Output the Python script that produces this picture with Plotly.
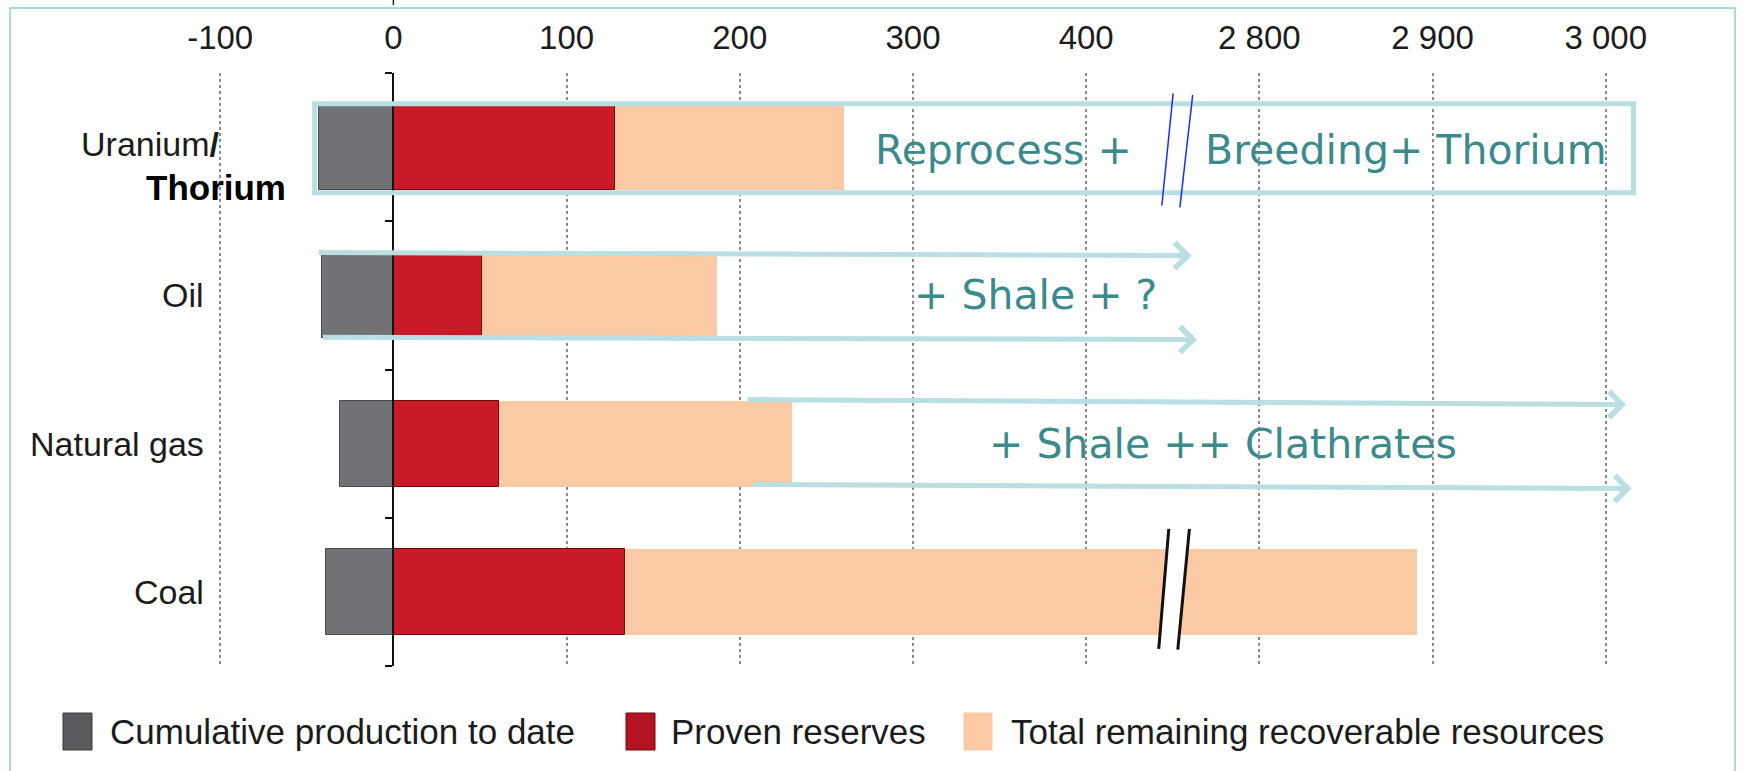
import plotly.graph_objects as go

# ---------------- data ----------------
categories = ["Uranium/Thorium", "Oil", "Natural gas", "Coal"]
cumulative_production = [43, 41, 31, 39]
proven_reserves = [128, 51, 61, 134]
total_remaining = [260, 187, 230, 2891]

tick_values = [-100, 0, 100, 200, 300, 400, 2800, 2900, 3000]
tick_labels = ["-100", "0", "100", "200", "300", "400", "2 800", "2 900", "3 000"]

series_names = ["Cumulative production to date", "Proven reserves",
                "Total remaining recoverable resources"]

# broken axis: values above BREAK_AT are shifted left by BREAK_SHIFT
BREAK_AT = 450
BREAK_SHIFT = 2300


def to_axis(v):
    return v - BREAK_SHIFT if v > BREAK_AT else v


# ---------------- layout constants ----------------
W, H = 1743, 771
ML, MR, MT, MB = 47, 16, 73, 105
PW = W - ML - MR
PH = H - MT - MB
X_RANGE = [-200, 770]

C_GRAY = "#707276"
C_RED = "#c81a27"
C_PEACH = "#fbc9a3"
C_TEAL_LINE = "#b9dfe2"
C_TEAL_TEXT = "#3b8a8c"
FONT = "Liberation Sans Narrow, Arial Narrow, Liberation Sans, Arial, sans-serif"


def fx(px):
    return (px - ML) / PW


def fy(py):
    return (MT + PH - py) / PH


y_pos = list(range(len(categories)))

fig = go.Figure()
fig.add_trace(go.Bar(
    y=y_pos, x=[-c for c in cumulative_production], base=0, orientation="h",
    width=0.58, name=series_names[0], showlegend=False,
    marker=dict(color=C_GRAY, line=dict(color="#4a4b4e", width=1))))
fig.add_trace(go.Bar(
    y=y_pos, x=proven_reserves, base=0, orientation="h",
    width=0.58, name=series_names[1], showlegend=False,
    marker=dict(color=C_RED, line=dict(color="#6e0a10", width=1))))
fig.add_trace(go.Bar(
    y=y_pos, x=[to_axis(t) - p for t, p in zip(total_remaining, proven_reserves)],
    base=proven_reserves, orientation="h",
    width=0.58, name=series_names[2], showlegend=False,
    marker=dict(color=C_PEACH, line=dict(width=0))))

zero_frac = (0 - X_RANGE[0]) / (X_RANGE[1] - X_RANGE[0])

shapes = []
annotations = []

# frame around the picture
shapes.append(dict(type="rect", xref="paper", yref="paper",
                   x0=fx(10), x1=fx(1735), y0=fy(800), y1=fy(8),
                   line=dict(color="#aad8dc", width=2), layer="above"))
# small mark above the zero at the very top
shapes.append(dict(type="line", xref="x", yref="paper", x0=0, x1=0,
                   y0=fy(0), y1=fy(5), line=dict(color="#222", width=1.5)))

# category labels
label_font = dict(family=FONT, size=34, color="#1c1c1c")
for i, c in enumerate(categories):
    if i == 0:
        annotations.append(dict(x=-99.5, y=y_pos[i] - 0.02, xref="x", yref="y",
                                text="Uranium<b>/</b>", showarrow=False, xanchor="right",
                                yanchor="middle", font=label_font))
        annotations.append(dict(x=-61, y=y_pos[i] + 0.27, xref="x", yref="y",
                                text="<b>Thorium</b>", showarrow=False, xanchor="right",
                                yanchor="middle",
                                font=dict(family="Liberation Sans, Arial, sans-serif",
                                          size=35, color="#000")))
    else:
        annotations.append(dict(x=-108, y=y_pos[i], xref="x", yref="y",
                                text=c, showarrow=False, xanchor="right",
                                yanchor="middle", font=label_font))

# Uranium box annotation
shapes.append(dict(type="rect", xref="x", yref="y", x0=-45.5, x1=716,
                   y0=-0.293, y1=0.307, line=dict(color=C_TEAL_LINE, width=5)))
note_font = dict(family="DejaVu Sans, Verdana, sans-serif", size=41, color=C_TEAL_TEXT)
annotations.append(dict(x=277, y=0.02, xref="x", yref="y", text="Reprocess +",
                        showarrow=False, xanchor="left", yanchor="middle", font=note_font))
annotations.append(dict(x=467.4, y=0.02, xref="x", yref="y", text="Breeding+ Thorium",
                        showarrow=False, xanchor="left", yanchor="middle", font=note_font))
# blue break marks on uranium box
for (xa, ya, xb, yb) in [(450.2, -0.363, 443.7, 0.394), (461.5, -0.352, 454.1, 0.406)]:
    shapes.append(dict(type="line", xref="x", yref="y", x0=xa, y0=ya, x1=xb, y1=yb,
                       line=dict(color="#1a2cff", width=1.5)))

# Oil / gas arrows and notes
for (sx, sy, ex, ey) in [(-44.1, 0.711, 460.9, 0.732), (-41.5, 1.283, 464.0, 1.298),
                         (203.6, 1.703, 711.7, 1.736), (207.0, 2.276, 715.0, 2.303)]:
    annotations.append(dict(x=ex, y=ey, ax=sx, ay=sy, xref="x", yref="y",
                            axref="x", ayref="y", text="", showarrow=True,
                            arrowhead=4, arrowsize=1.0, arrowwidth=5,
                            arrowcolor=C_TEAL_LINE, standoff=0, startstandoff=0))
annotations.append(dict(x=299.4, y=1.0, xref="x", yref="y", text="+ Shale + ?",
                        showarrow=False, xanchor="left", yanchor="middle", font=note_font))
annotations.append(dict(x=342.7, y=2.0, xref="x", yref="y", text="+ Shale ++ Clathrates",
                        showarrow=False, xanchor="left", yanchor="middle", font=note_font))

# coal axis-break marks
l1 = (447.7, 2.575, 441.9, 3.384)
l2 = (459.6, 2.575, 452.9, 3.390)
shapes.append(dict(type="path", xref="x", yref="y",
                   path=f"M{l1[0]},{l1[1]} L{l2[0]},{l2[1]} L{l2[2]},{l2[3]} L{l1[2]},{l1[3]} Z",
                   fillcolor="white", line=dict(width=0)))
for (xa, ya, xb, yb) in [l1, l2]:
    shapes.append(dict(type="line", xref="x", yref="y", x0=xa, y0=ya, x1=xb, y1=yb,
                       line=dict(color="#111", width=3)))

# manual legend
legend_items = [
    (series_names[0], "#58595c", "#3a3b3d", 63, 92, 108),
    (series_names[1], "#b3121f", "#6e0a10", 626, 655, 669),
    (series_names[2], C_PEACH, C_PEACH, 964, 992, 1009),
]
for name, col, edge, x0, x1, tx in legend_items:
    shapes.append(dict(type="rect", xref="paper", yref="paper",
                       x0=fx(x0), x1=fx(x1), y0=fy(750), y1=fy(713),
                       fillcolor=col, line=dict(color=edge, width=1)))
    annotations.append(dict(x=fx(tx), y=fy(731), xref="paper", yref="paper", text=name,
                            showarrow=False, xanchor="left", yanchor="middle",
                            font=dict(family=FONT, size=35, color="#1c1c1c")))

fig.update_layout(
    width=W, height=H,
    margin=dict(l=ML, r=MR, t=MT, b=MB, pad=0),
    paper_bgcolor="white", plot_bgcolor="white",
    barmode="overlay", bargap=0,
    showlegend=False,
    shapes=shapes, annotations=annotations,
    xaxis=dict(range=X_RANGE, side="top",
               tickvals=[to_axis(v) for v in tick_values], ticktext=tick_labels,
               tickfont=dict(family=FONT, size=33, color="#1c1c1c"),
               ticks="", ticklabelstandoff=16,
               showgrid=True, gridcolor="#8c8c8c", griddash="dot", gridwidth=1.5,
               zeroline=False, showline=False),
    yaxis=dict(range=[len(categories) - 0.5, -0.5], anchor="free", position=zero_frac,
               showgrid=False, zeroline=False, showticklabels=False,
               showline=True, linecolor="#111", linewidth=2,
               tickvals=[i - 0.5 for i in range(len(categories) + 1)],
               ticks="outside", ticklen=7, tickwidth=2, tickcolor="#111"),
)

fig.write_html("out.html", config={"displayModeBar": False},
               post_script="document.body.style.margin='0';document.body.style.overflow='hidden';")
